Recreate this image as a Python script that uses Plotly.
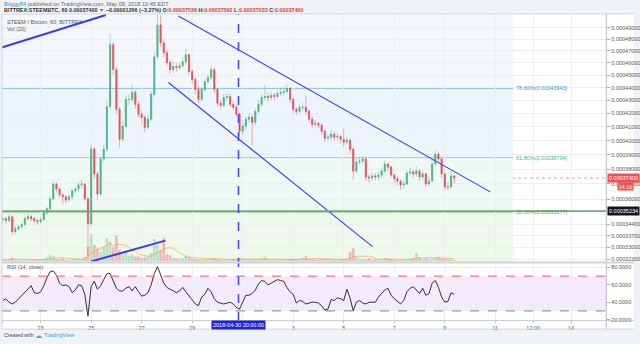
import math
import numpy as np
import pandas as pd
import plotly.graph_objects as go

# ---------------- data (prices in 1e-8 BTC) ----------------
START = "2018-04-21 12:00"
FIRST_OPEN = 34700
close = [34760,34640,34880,33960,34140,34260,34390,34760,34880,34760,
         34640,34570,34700,35130,35380,36020,37000,36670,36280,36150,
         35960,36150,36540,36670,36940,37000,36020,34450,39390,37670,
         36340,38700,39390,42540,47540,45450,42320,40100,41050,43080,
         43080,43620,42700,41940,41710,40970,41570,43470,46520,49260,
         47700,46860,46030,45450,45700,45620,45780,46110,46690,45290,
         44650,43860,43080,43860,44490,44810,45450,43860,42780,42620,
         43230,43310,42700,42470,41940,40680,41050,41570,41710,41340,
         42160,42700,43230,43310,43230,43390,43310,43540,43620,43700,
         43930,43080,42320,42160,42470,42470,42160,41570,41190,41270,
         41120,40680,40180,40250,40460,40250,40320,40100,39890,40030,
         39390,37870,38490,38560,38700,37470,37400,37540,37470,37600,
         37870,38350,38140,37600,37340,37200,36940,37000,37740,37810,
         37670,37870,37470,37670,37000,37200,38350,39040,38700,37670,
         36800,36800,37540,37400]
high = [34950,34900,35050,34950,34300,34400,34550,34900,35100,35000,
        34850,34750,34850,35250,35500,36200,37250,37100,36750,36400,
        36250,36300,36700,36850,37150,37300,37050,36100,39700,39500,
        37800,38850,39700,42900,48500,47800,45700,42500,41400,43400,
        43500,44200,43800,42900,42200,41900,41900,43700,46900,50300,
        50100,48000,47100,46300,46100,46000,46100,46500,47200,46800,
        45500,44800,44100,44100,44700,45100,45800,45600,44000,43000,
        43500,43600,43500,42900,42700,42100,41300,41800,42000,41900,
        42400,43000,43500,44200,43600,43700,43600,43800,44000,44100,
        44300,44100,43200,42500,42700,42800,43400,42300,41800,41500,
        41400,41300,40800,40500,40800,40700,40600,40400,40900,40300,
        40200,39500,38800,38800,38900,38800,37700,37800,37750,37850,
        38100,38600,38450,38250,37700,37500,37300,37300,37900,38100,
        38000,38200,38000,37900,37800,37500,38700,39300,39200,38800,
        37750,37100,37800,37592]
low = [34500,34450,34550,33800,33850,34000,34150,34300,34650,34600,
       34500,34400,34450,34600,35000,35300,35900,36450,36100,35700,
       35750,35850,36000,36400,36500,36700,35900,32500,34300,37400,
       36000,36200,38500,39200,42300,45000,42000,39500,39900,40900,
       42700,42900,42400,41700,41300,40600,40800,41400,43300,46300,
       47300,46500,45800,45100,45200,45300,45400,45600,45900,45000,
       44300,43500,42800,42900,43700,44300,44600,43600,42500,42300,
       42500,43000,42500,42200,41700,40300,40400,40800,41300,39700,
       41100,42000,42500,43000,42900,43000,43000,43200,43300,43400,
       43500,42800,42000,41900,42000,42200,41900,41300,40900,41000,
       40900,40400,39900,40000,40100,40000,40000,39800,39600,39700,
       39100,37300,37700,38300,38400,37200,37100,37200,37250,37300,
       37400,37700,37900,37400,37100,36900,36600,36700,36900,37500,
       37400,37500,37200,37300,36800,36900,37100,38200,38400,37400,
       36600,36600,36700,37033]
volume = [0.9,0.7,1.0,1.6,0.8,0.6,0.7,0.9,0.6,0.5,
          0.6,0.7,0.8,1.2,1.8,2.6,2.2,1.0,0.9,1.4,
          0.8,0.7,0.9,1.1,1.3,1.0,2.0,6.5,11.5,7.0,
          5.5,4.0,6.0,10.0,8.5,6.0,11.0,5.0,3.0,4.5,
          2.5,3.0,2.0,2.2,1.6,1.8,2.0,3.5,9.5,7.0,
          5.0,10.0,3.0,2.5,1.6,1.4,1.2,1.5,2.5,1.8,
          1.2,1.0,0.8,0.9,1.0,1.1,1.2,1.3,0.9,0.8,
          0.7,0.8,0.7,0.9,1.0,1.8,1.2,1.0,0.9,0.8,
          1.0,1.1,1.3,2.0,1.0,0.8,0.7,0.9,1.0,0.8,
          0.9,1.4,1.0,0.9,1.1,1.5,2.2,1.2,1.0,0.8,
          0.7,0.8,1.0,1.3,1.0,0.8,0.7,0.9,1.0,1.2,
          4.0,5.5,2.0,1.2,1.0,0.9,1.5,1.0,0.8,0.7,
          0.8,1.6,1.4,1.0,0.8,0.6,0.7,0.8,0.9,1.2,
          1.5,3.5,1.8,1.2,1.5,1.0,1.3,1.6,2.0,1.4,
          1.2,1.0,0.9,0.6]
rsi = [42,44,40,38,40,44,48,51,55,59,
       51,50,52,59,68,75,76,71,62,59,
       60,58,51,54,60,59,49,24,58,64,
       55,59,66,73,73,64,56,53,53,56,
       58,53,58,52,47,48,51,60,73,81,
       71,62,57,55,53,51,53,57,52,47,
       43,38,36,46,49,56,52,44,40,39,
       38,39,40,38,34,32,41,48,48,50,
       54,61,65,64,60,62,64,66,65,64,
       57,52,49,39,42,41,38,39,40,40,
       39,36,31,32,43,42,45,44,42,55,
       45,30,40,42,39,38,40,40,40,46,
       50,54,56,48,44,41,38,42,52,56,
       58,54,50,56,48,50,62,65,57,46,
       40,41,51,49]

price_ticks = [0.00049, 0.00048, 0.00047, 0.00046, 0.00045, 0.00044, 0.00043,
               0.00042, 0.00041, 0.00040, 0.00039, 0.00038, 0.00037, 0.00036,
               0.000344, 0.000337, 0.00033, 0.000323]
date_ticks = ["2018-04-21 12:00", "2018-04-23", "2018-04-25", "2018-04-27", "2018-04-29",
              "2018-05-01", "2018-05-03", "2018-05-05", "2018-05-07", "2018-05-09",
              "2018-05-11", "2018-05-12 12:00", "2018-05-14"]
date_labels = ["12:00", "23", "25", "27", "29", "", "3", "5", "7", "9", "11", "12:00", "14"]
rsi_ticks = [20, 40, 60, 80]

fib_names = ["78.60%", "61.80%", "50.00%"]
fib_prices = [0.00043943, 0.00038794, 0.00035177]
fib_end = "2018-05-11 17:00"
hline_price = 0.00035234
last_price = 0.00037400
crosshair_time = "2018-04-30 20:00"

trend_a_t = ["2018-04-21 11:00", "2018-04-25 14:00"]
trend_a_p = [0.00047300, 0.00050150]
trend_b_t = ["2018-04-25 00:00", "2018-04-27 22:30"]
trend_b_p = [0.00032183, 0.00033414]
chan_up_t = ["2018-04-28 10:50", "2018-05-10 19:15"]
chan_up_p = [0.00050063, 0.00036476]
chan_lo_t = ["2018-04-28 01:25", "2018-05-06 03:20"]
chan_lo_p = [0.00044408, 0.00033058]

X_RANGE = ["2018-04-21 11:18", "2018-05-15 09:25"]
P_RANGE = [0.00032183, 0.00050243]
RSI_RANGE = [19.4, 84.6]

# ---------------- derived ----------------
W, H = 640, 344
def px(x): return x / W
def py(y): return 1 - y / H

t = pd.date_range(START, periods=len(close), freq="3h")
c = np.array(close) * 1e-8
h = np.array(high) * 1e-8
l = np.array(low) * 1e-8
o = np.concatenate([[FIRST_OPEN * 1e-8], c[:-1]])
body_hi = np.maximum(o, c)
body_lo = np.minimum(o, c)
vol = np.array(volume)
vol_ma = pd.Series(vol).rolling(7, min_periods=1).mean()

UP, DN = "#4fb383", "#e8505f"
FONT = "Liberation Sans, Arial, sans-serif"
fs = 5.5

fig = go.Figure()

vcol = np.where(c >= o, "rgba(83,185,135,0.35)", "rgba(235,77,92,0.35)")
fig.add_trace(go.Bar(x=t, y=vol, marker_color=vcol, marker_line_width=0,
                     xaxis="x", yaxis="y"))
fig.add_trace(go.Scatter(x=t, y=vol_ma, mode="lines", xaxis="x", yaxis="y",
                         line=dict(color="rgba(255,152,0,0.55)", width=1)))

# wicks (pale) then bodies (solid)
fig.add_trace(go.Candlestick(x=t, open=o, high=h, low=l, close=c, xaxis="x", yaxis="y2",
                             whiskerwidth=0,
                             increasing=dict(line=dict(color="rgba(83,185,135,0.45)", width=1),
                                             fillcolor="rgba(83,185,135,0.45)"),
                             decreasing=dict(line=dict(color="rgba(232,80,95,0.45)", width=1),
                                             fillcolor="rgba(232,80,95,0.45)")))
fig.add_trace(go.Candlestick(x=t, open=o, high=body_hi, low=body_lo, close=c, xaxis="x", yaxis="y2",
                             whiskerwidth=0,
                             increasing=dict(line=dict(color=UP, width=0.5), fillcolor=UP),
                             decreasing=dict(line=dict(color=DN, width=0.5), fillcolor=DN)))

LINE_BLUE = "#3b3bef"
for tt, pp, wd in [(trend_a_t, trend_a_p, 2), (trend_b_t, trend_b_p, 2),
                   (chan_up_t, chan_up_p, 1.1), (chan_lo_t, chan_lo_p, 1.1)]:
    fig.add_trace(go.Scatter(x=tt, y=pp, mode="lines", xaxis="x", yaxis="y2",
                             line=dict(color=LINE_BLUE, width=wd)))

fig.add_trace(go.Scatter(x=t, y=rsi, mode="lines", xaxis="x2", yaxis="y3",
                         line=dict(color="#1c1c1c", width=0.9)))

shapes = []
# white chart frame background
shapes.append(dict(type="rect", xref="paper", yref="paper", x0=px(2), x1=1, y0=py(331), y1=py(14),
                   fillcolor="white", line_width=0, layer="below"))
# fib zones
zone_cols = ["#f3f7fb", "#ecf5fc", "#eef8f5", "#eff8ed"]
bounds = [0.00052] + fib_prices + [0.00030]
for i in range(4):
    shapes.append(dict(type="rect", xref="x", yref="y2", x0="2018-04-20", x1=fib_end,
                       y0=bounds[i + 1], y1=bounds[i], fillcolor=zone_cols[i], line_width=0, layer="below"))
fib_line_cols = ["#8cc0e8", "#88d8bc", "#6cc070"]
fib_text_cols = ["#3a8fd6", "#2fbf8c", "#43a84c"]
for p, col in zip(fib_prices, fib_line_cols):
    shapes.append(dict(type="line", xref="x", yref="y2", x0="2018-04-20", x1=fib_end, y0=p, y1=p,
                       line=dict(color=col, width=1), layer="below"))
# horizontal drawn line
shapes.append(dict(type="line", xref="paper", yref="y2", x0=px(2), x1=px(612), y0=hline_price, y1=hline_price,
                   line=dict(color="#7aa67b", width=1.6)))
# last price dotted line
shapes.append(dict(type="line", xref="paper", yref="y2", x0=px(2), x1=px(612), y0=last_price, y1=last_price,
                   line=dict(color="#f29a9a", width=1, dash="dot"), layer="below"))
# RSI band
shapes.append(dict(type="rect", xref="paper", yref="y3", x0=px(2), x1=px(612), y0=30, y1=70,
                   fillcolor="#f4eafd", line_width=0, layer="below"))
shapes.append(dict(type="line", xref="paper", yref="y3", x0=px(2), x1=px(612), y0=70, y1=70,
                   line=dict(color="#f07a7a", width=1.3, dash="dash")))
shapes.append(dict(type="line", xref="paper", yref="y3", x0=px(2), x1=px(612), y0=30, y1=30,
                   line=dict(color="#86a886", width=1.3, dash="dash")))
# crosshair
shapes.append(dict(type="line", xref="x", yref="paper", x0=crosshair_time, x1=crosshair_time,
                   y0=py(323), y1=py(14), line=dict(color="#4a4af2", width=1.6, dash="dash")))
# frame borders
BC = "#d3d6da"
shapes += [
    dict(type="line", xref="paper", yref="paper", x0=px(2), x1=1, y0=py(14), y1=py(14), line=dict(color=BC, width=1)),
    dict(type="line", xref="paper", yref="paper", x0=px(2), x1=px(2), y0=py(331), y1=py(14), line=dict(color=BC, width=1)),
    dict(type="line", xref="paper", yref="paper", x0=px(612), x1=px(612), y0=py(331), y1=py(14), line=dict(color="#b4b8bc", width=1)),
    dict(type="line", xref="paper", yref="paper", x0=px(2), x1=1, y0=py(264), y1=py(264), line=dict(color="#cfd2d6", width=2)),
    dict(type="line", xref="paper", yref="paper", x0=px(2), x1=1, y0=py(322.5), y1=py(322.5), line=dict(color="#c4c8cc", width=1)),
    dict(type="line", xref="paper", yref="paper", x0=px(2), x1=1, y0=py(331), y1=py(331), line=dict(color=BC, width=1)),
]

ann = []
def txt(x, y, text, color="#555", size=fs, **kw):
    d = dict(xref="paper", yref="paper", x=x, y=y, text=text, showarrow=False, xanchor="left",
             yanchor="middle", font=dict(family=FONT, size=size, color=color))
    d.update(kw)
    ann.append(d)

txt(px(2), py(4.5), "<span style='color:#2a8fd8'>Briggy84</span> published on TradingView.com, May 09, 2018 10:45 EDT",
    color="#666", size=5.6)
R = "#e53935"
line2 = ("<b>BITTREX:STEEMBTC, 60 0.00037400 <span style='color:%s'>▼</span> −0.00001266 (−3.27%%) "
         "O:<span style='color:%s'>0.00037536</span> H:<span style='color:%s'>0.00037592</span> "
         "L:<span style='color:%s'>0.00037033</span> C:<span style='color:%s'>0.00037400</span></b>") % (R, R, R, R, R)
txt(px(2), py(10.5), line2, color="#333", size=5.4)
txt(px(5), py(22), "STEEM / Bitcoin, 60, BITTREX", color="#555")
txt(px(5), py(29.5), "Vol (20)", color="#555")
txt(px(5), py(269), "RSI (14, close)", color="#555")
for name, p, col in zip(fib_names, fib_prices, fib_text_cols):
    ann.append(dict(xref="paper", yref="y2", x=px(518.5), y=math.log10(p), text="%s(%.8f)" % (name, p),
                    showarrow=False, xanchor="left", yanchor="middle",
                    font=dict(family=FONT, size=fs, color=col)))
ann.append(dict(xref="paper", yref="y2", x=px(613), y=math.log10(last_price), text="%.8f" % last_price,
                showarrow=False, xanchor="left", yanchor="middle", bgcolor="#ef5350", borderpad=1,
                font=dict(family=FONT, size=fs, color="white")))
ann.append(dict(xref="paper", yref="y2", x=1, y=math.log10(last_price), yshift=-9, text="14:16",
                showarrow=False, xanchor="right", yanchor="middle", bgcolor="#ef5350", borderpad=0.5,
                font=dict(family=FONT, size=fs, color="white")))
ann.append(dict(xref="paper", yref="y2", x=px(613), y=math.log10(hline_price), text="%.8f" % hline_price,
                showarrow=False, xanchor="left", yanchor="middle", bgcolor="#131722", borderpad=1,
                font=dict(family=FONT, size=fs, color="white")))
ann.append(dict(xref="x2", yref="paper", x=crosshair_time, y=py(327), text="2018-04-30 20:00:00",
                showarrow=False, xanchor="center", yanchor="middle", bgcolor="#2222dd", borderpad=1,
                font=dict(family=FONT, size=fs, color="white")))
txt(px(2), py(337), "Created with", color="#444", size=5.3)
txt(px(33), py(337), "☁", color="#4aa8e8", size=7)
txt(px(42), py(337), "TradingView", color="#3a9ee8", size=5.5)

GRID = "#eceff2"
tickfont = dict(family=FONT, size=fs, color="#555")
fig.update_layout(
    width=W, height=H, margin=dict(l=0, r=0, t=0, b=0),
    paper_bgcolor="#eff2f6", plot_bgcolor="rgba(0,0,0,0)",
    showlegend=False, hovermode=False, boxgap=0.5, bargap=0.15,
    xaxis=dict(domain=[px(2), px(612)], anchor="y", type="date", range=X_RANGE,
               tickvals=date_ticks, showticklabels=False, showgrid=True, gridcolor=GRID,
               zeroline=False, showline=False, ticks="", rangeslider=dict(visible=False)),
    xaxis2=dict(domain=[px(2), px(612)], anchor="y3", type="date", range=X_RANGE,
                tickvals=date_ticks, ticktext=date_labels, tickfont=tickfont, showgrid=True,
                gridcolor=GRID, zeroline=False, showline=False, ticks="outside", ticklen=2,
                tickcolor="#bbb", rangeslider=dict(visible=False)),
    yaxis=dict(domain=[py(263), py(14)], range=[0, 105], visible=False, fixedrange=True),
    yaxis2=dict(overlaying="y", anchor="x", side="right", type="log",
                range=[math.log10(P_RANGE[0]), math.log10(P_RANGE[1])],
                tickvals=price_ticks, ticktext=["%.8f" % v for v in price_ticks],
                tickfont=tickfont, showgrid=True, gridcolor=GRID, zeroline=False,
                ticks="outside", ticklen=3, tickcolor="#aaa", showline=False),
    yaxis3=dict(domain=[py(322), py(265)], anchor="x2", side="right", range=RSI_RANGE,
                tickvals=rsi_ticks, ticktext=["%.4f" % v for v in rsi_ticks], tickfont=tickfont,
                showgrid=True, gridcolor=GRID, zeroline=False, ticks="outside", ticklen=3,
                tickcolor="#aaa", showline=False),
    shapes=shapes, annotations=ann,
)

fig.write_html("out.html")
